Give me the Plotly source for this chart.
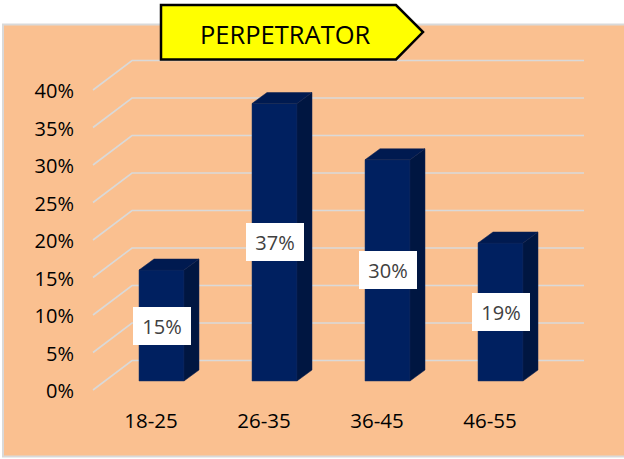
import plotly.graph_objects as go

categories = ["18-25", "26-35", "36-45", "46-55"]
values = [14.8, 37, 29.5, 18.4]
value_labels = ["15%", "37%", "30%", "19%"]
grid_ticks = [0, 5, 10, 15, 20, 25, 30, 35, 40]
title_text = "PERPETRATOR"

W, H = 624, 459
L, B_PX = 75, 406          # plot-area left / bottom in page pixels
X0, XS = 161.5, 113.0      # page x of first category, pixels per category
Y0, YS = 390.0, 7.5        # page y of value 0 on front plane, pixels per unit


def ux(px):
    return (px - X0) / XS


def uy(py):
    return (Y0 - py) / YS


def paper_x(px):
    return (px - L) / (W - L)


def paper_y(py):
    return (B_PX - py) / B_PX


FONT = "Open Sans"
BAR_W = 45 / XS
BASE = 9 / YS              # bars stand this far above the front plane
DX, DY = 15 / XS, 11 / YS  # bar depth
GRID_DY = 29.5 / YS
idx = list(range(len(categories)))

fig = go.Figure()

# bar side and top faces
for i, v in zip(idx, values):
    r = i + BAR_W / 2
    l = i - BAR_W / 2
    fig.add_trace(go.Scatter(
        x=[r, r + DX, r + DX, r, r],
        y=[BASE, BASE + DY, BASE + v + DY, BASE + v, BASE],
        mode="lines", fill="toself", fillcolor="#001641",
        line=dict(color="#0F2350", width=0.5),
        hoverinfo="skip", showlegend=False))
    fig.add_trace(go.Scatter(
        x=[l, l + DX, r + DX, r, l],
        y=[BASE + v, BASE + v + DY, BASE + v + DY, BASE + v, BASE + v],
        mode="lines", fill="toself", fillcolor="#001A50",
        line=dict(color="#0F2350", width=0.5),
        hoverinfo="skip", showlegend=False))

# bar front faces
fig.add_trace(go.Bar(
    x=idx, y=values, base=BASE, width=BAR_W,
    marker=dict(color="#002060", line=dict(color="#1B3566", width=0.5)),
    showlegend=False))

annotations = [
    dict(x=i, y=BASE + v / 2, xref="x", yref="y", text=lab, showarrow=False,
         bgcolor="#FFFFFF", width=58, height=38, borderpad=0, borderwidth=0,
         font=dict(family=FONT, size=20, color="#404040"),
         xanchor="center", yanchor="middle")
    for i, v, lab in zip(idx, values, value_labels)
]
annotations.append(dict(
    x=paper_x(285.5), y=paper_y(34), xref="paper", yref="paper", text=title_text,
    showarrow=False, font=dict(family=FONT, size=25.5, color="#000000"),
    xanchor="center", yanchor="middle"))


def page_path(points):
    return "M " + " L ".join(f"{paper_x(a):.5f},{paper_y(b):.5f}" for a, b in points) + " Z"


shapes = [
    dict(type="path", xref="paper", yref="paper", layer="below",
         path=page_path([(3, 24.5), (640, 24.5), (640, 456.5), (3, 456.5)]),
         fillcolor="#FAC090", line=dict(color="#D9D9D9", width=2)),
]
# gridlines: diagonal on the side wall, then flat on the back wall
for t in grid_ticks:
    shapes.append(dict(
        type="path", xref="x", yref="y", layer="below",
        path=(f"M {ux(93):.4f},{t} L {ux(132):.4f},{t + GRID_DY:.4f} "
              f"L {ux(584):.4f},{t + GRID_DY:.4f}"),
        line=dict(color="#D9D9D9", width=1.6)))
shapes.append(dict(
    type="path", xref="paper", yref="paper", layer="above",
    path=page_path([(161, 5), (396, 5), (423, 32), (396, 59.5), (161, 59.5)]),
    fillcolor="#FFFF00", line=dict(color="#000000", width=2.5)))

fig.update_layout(
    width=W, height=H, autosize=False,
    margin=dict(l=L, r=0, t=0, b=H - B_PX, pad=0),
    paper_bgcolor="#FFFFFF", plot_bgcolor="rgba(0,0,0,0)",
    showlegend=False, shapes=shapes, annotations=annotations,
    font=dict(family=FONT, size=20, color="#000000"),
    xaxis=dict(range=[ux(L), ux(W)], tickmode="array",
               tickvals=[i + ux(151) for i in idx], ticktext=categories,
               showgrid=False, zeroline=False, showline=False, ticks="",
               tickfont=dict(family=FONT, size=20.5, color="#000000")),
    yaxis=dict(range=[uy(B_PX), uy(0)], tickmode="array",
               tickvals=grid_ticks, ticktext=[f"{t}%" for t in grid_ticks],
               showgrid=False, zeroline=False, showline=False, ticks="",
               ticklabelshift=1,
               tickfont=dict(family=FONT, size=20, color="#000000")),
)

fig.write_html("out.html", config={"displayModeBar": False},
               post_script="document.body.style.margin='0';")
